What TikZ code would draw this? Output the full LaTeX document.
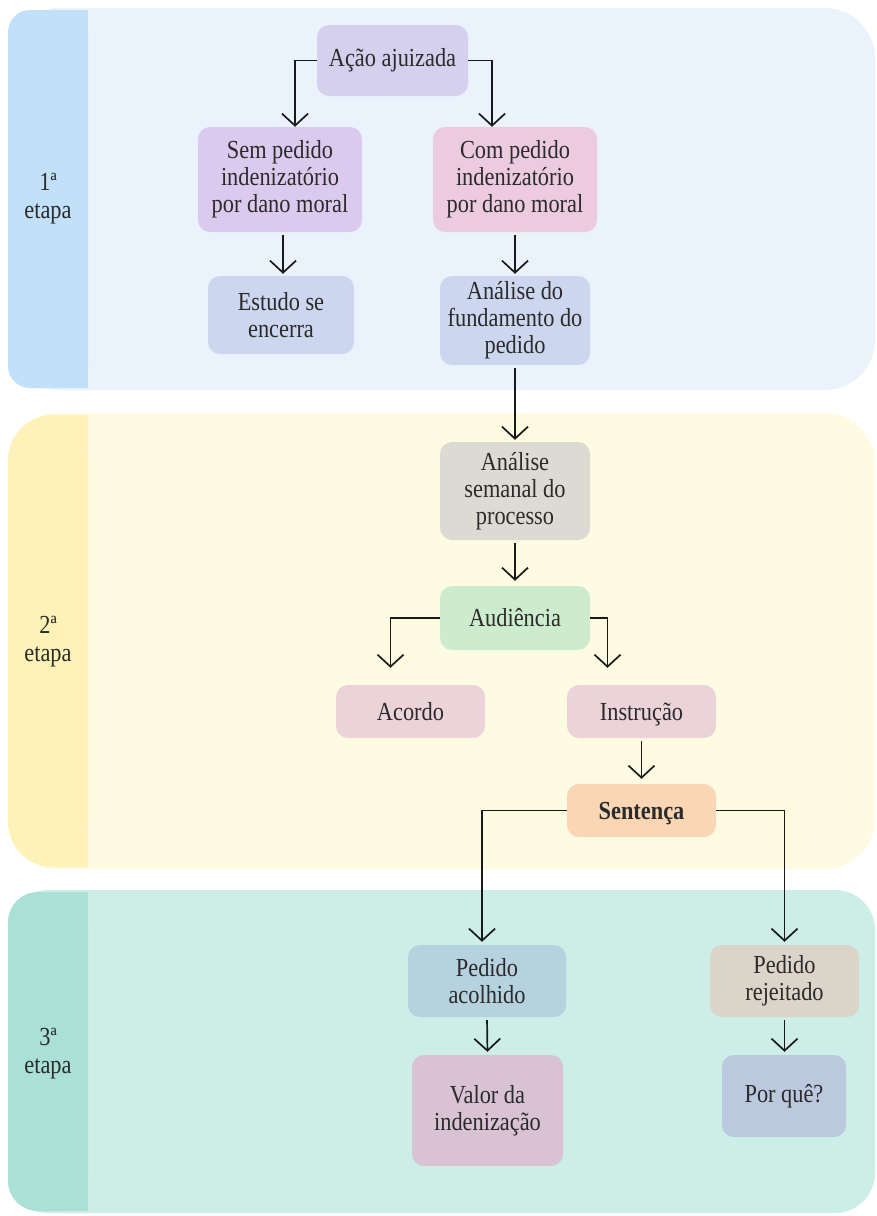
\documentclass[tikz,border=0pt]{standalone}
\usepackage{fontspec}
\setmainfont{Liberation Serif}[FakeStretch=0.86]
\usetikzlibrary{arrows.meta}
\definecolor{pA}{HTML}{EAF3FC}\definecolor{sA}{HTML}{C2E1F9}
\definecolor{pB}{HTML}{FEFBE3}\definecolor{sB}{HTML}{FDF3B8}
\definecolor{pC}{HTML}{CDEEE6}\definecolor{sC}{HTML}{A9E1D6}
\definecolor{cAcao}{HTML}{D4D0EE}\definecolor{cSem}{HTML}{DCCAEE}
\definecolor{cCom}{HTML}{ECCBE0}\definecolor{cBlue}{HTML}{CCD6EE}
\definecolor{cGrey}{HTML}{DCDAD2}\definecolor{cGreen}{HTML}{CDECCD}
\definecolor{cRose}{HTML}{ECD3D9}\definecolor{cPeach}{HTML}{FBD6B5}
\definecolor{cAcol}{HTML}{B5D2DE}\definecolor{cRej}{HTML}{DBD4C8}
\definecolor{cValor}{HTML}{D8C2D4}\definecolor{cPorq}{HTML}{BCC8DE}
\definecolor{txt}{HTML}{2B2B2B}
\begin{document}
\begin{tikzpicture}[x=1pt,y=1pt,
  box/.style={rounded corners=12pt, align=center, inner sep=0pt, text=txt,
    font=\fontsize{26}{27}\selectfont},
  lab/.style={align=center, text=txt, font=\fontsize{26}{28}\selectfont},
  arr/.style={draw=black!90, line width=1.7pt,
    -{Straight Barb[length=12pt, width=26pt, line width=1.7pt]}}]
\fill[white] (0,0) rectangle (877,-1216);
\useasboundingbox (0,0) rectangle (877,-1216);
% panels
\fill[pA, rounded corners=50pt] (8,-8) rectangle (875,-390);
\fill[sA, rounded corners=22pt] (8,-10) rectangle (88,-388);
\fill[sA] (60,-10) rectangle (88,-388);
\fill[pB, rounded corners=50pt] (8,-413) rectangle (875,-869);
\fill[sB, rounded corners=45pt] (8,-415) rectangle (88,-867);
\fill[sB] (45,-415) rectangle (88,-867);
\fill[pC, rounded corners=40pt] (8,-890) rectangle (875,-1213);
\fill[sC, rounded corners=30pt] (8,-892) rectangle (88,-1211);
\fill[sC] (50,-892) rectangle (88,-1211);
% stage labels
\node[lab] (e1) at (48,-199) {1ª\\etapa};
\node[lab] (e2) at (48,-642) {2ª\\etapa};
\node[lab] (e3) at (48,-1054) {3ª\\etapa};
% nodes
\node[box, fill=cAcao, minimum width=151pt, minimum height=71pt] (acao) at (392.5,-60.5) {Ação ajuizada};
\node[box, fill=cSem, minimum width=164pt, minimum height=105pt] (sem) at (280,-179.5) {Sem pedido\\indenizatório\\por dano moral};
\node[box, fill=cCom, minimum width=164pt, minimum height=105pt] (com) at (515,-179.5) {Com pedido\\indenizatório\\por dano moral};
\node[box, fill=cBlue, minimum width=146pt, minimum height=78pt] (estudo) at (281,-315) {Estudo se\\encerra};
\node[box, fill=cBlue, minimum width=150pt, minimum height=89pt] (fund) at (515,-320.5) {Análise do\\fundamento do\\pedido};
\node[box, fill=cGrey, minimum width=150pt, minimum height=98pt] (seman) at (515,-491) {Análise\\semanal do\\processo};
\node[box, fill=cGreen, minimum width=150pt, minimum height=64pt] (aud) at (515,-618) {Audiência};
\node[box, fill=cRose, minimum width=149pt, minimum height=53pt] (acordo) at (410.5,-711.5) {Acordo};
\node[box, fill=cRose, minimum width=149pt, minimum height=53pt, text depth=0pt] (instr) at (641.5,-711.5) {Instrução};
\node[box, fill=cPeach, minimum width=149pt, minimum height=53pt, text depth=0pt] (sent) at (641.5,-810.5) {\textbf{Sentença}};
\node[box, fill=cAcol, minimum width=158pt, minimum height=72pt] (acol) at (487,-981) {Pedido\\acolhido};
\node[box, fill=cRej, minimum width=149pt, minimum height=72pt] (rej) at (784.5,-981) {Pedido\\rejeitado};
\node[box, fill=cValor, minimum width=151pt, minimum height=111pt] (valor) at (487.5,-1110.5) {Valor da\\indenização};
\node[box, fill=cPorq, minimum width=124pt, minimum height=82pt] (porque) at (784,-1096) {Por quê?};
% connectors
\draw[arr] (acao.west) -| ([xshift=15pt]sem.north);
\draw[arr] (acao.east) -| ([xshift=-23pt]com.north);
\draw[arr, shorten <=3pt, shorten >=2pt] ([xshift=3pt]sem.south) -- ([xshift=3pt]sem.south |- estudo.north);
\draw[arr, shorten <=3pt, shorten >=2pt] (com.south) -- (fund.north);
\draw[arr, shorten <=3pt, shorten >=2pt] (fund.south) -- (seman.north);
\draw[arr, shorten <=3pt, shorten >=5pt] (seman.south) -- (aud.north);
\draw[arr, shorten >=17pt] (aud.west) -| ([xshift=-20pt]acordo.north);
\draw[arr, shorten >=17pt] (aud.east) -| ([xshift=-34pt]instr.north);
\draw[arr, shorten <=3pt, shorten >=5pt] (instr.south) -- (sent.north);
\draw[arr, shorten >=3pt] (sent.west) -| ([xshift=-5pt]acol.north);
\draw[arr, shorten >=3pt] (sent.east) -| (rej.north);
\draw[arr, shorten <=3pt, shorten >=3pt] (acol.south) -- (valor.north);
\draw[arr, shorten <=3pt, shorten >=3pt] (rej.south) -- (rej.south |- porque.north);
\end{tikzpicture}
\end{document}
